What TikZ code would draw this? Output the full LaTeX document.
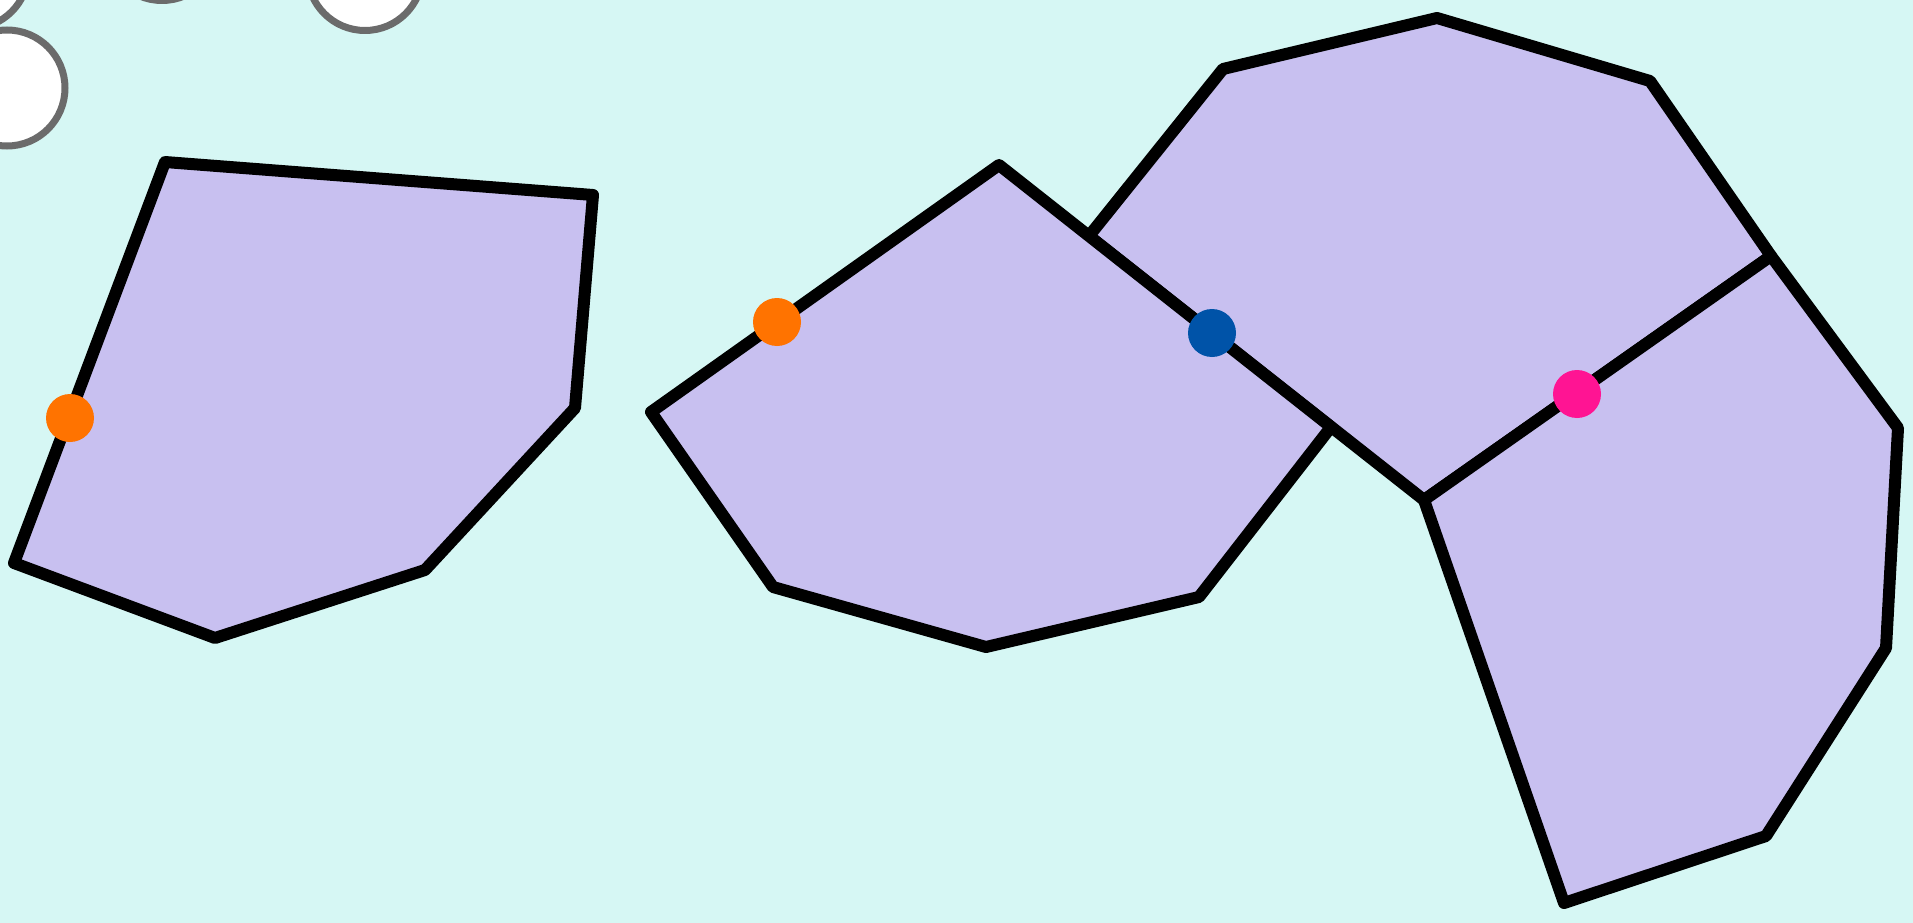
\documentclass[tikz,border=0pt]{standalone}
\begin{document}
\begin{tikzpicture}[x=1pt,y=-1pt,
  poly/.style={fill=lav,draw=black,line width=12pt,line join=round},
  ball/.style={fill=white,draw=ringgray,line width=7pt},
  dot/.style={circle,minimum size=48pt,inner sep=0pt}]
\definecolor{bg}{HTML}{D6F7F4}
\definecolor{lav}{HTML}{C8C0F0}
\definecolor{ringgray}{HTML}{6B6B6B}
\definecolor{dorange}{HTML}{FF7300}
\definecolor{dblue}{HTML}{0053A8}
\definecolor{dpink}{HTML}{FF1493}
\fill[bg] (0,0) rectangle (1913,923);
\useasboundingbox (0,0) rectangle (1913,923);
\begin{scope}
\clip (0,0) rectangle (1913,923);
% circles
\draw[ball] (-29,-29) circle (57.5);
\draw[ball] (162,-57) circle (57.5);
\draw[ball] (365,-27) circle (57.5);
\draw[ball] (7,88) circle (58);
% top-right polygon
\draw[poly] (1089,236) -- (1223,69) -- (1437,18) -- (1650,81) -- (1771,256) -- (1424,500) -- cycle;
% bottom-right polygon
\draw[poly] (1424,500) -- (1771,256) -- (1898,428) -- (1886,648) -- (1766,836) -- (1564,903) -- cycle;
% left polygon
\draw[poly] (165,162) -- (593,195) -- (575,408) -- (425,570) -- (215,638) -- (14,563) -- cycle;
% middle polygon
\draw[poly] (999,165) -- (651,412) -- (773,587) -- (986,647) -- (1199,597) -- (1331,427) -- cycle;
\end{scope}
% dots
\node[dot,fill=dorange] (d1) at (70,418) {};
\node[dot,fill=dorange] (d2) at (777,322) {};
\node[dot,fill=dblue] (d3) at (1212,333) {};
\node[dot,fill=dpink] (d4) at (1577,394) {};
\end{tikzpicture}
\end{document}
